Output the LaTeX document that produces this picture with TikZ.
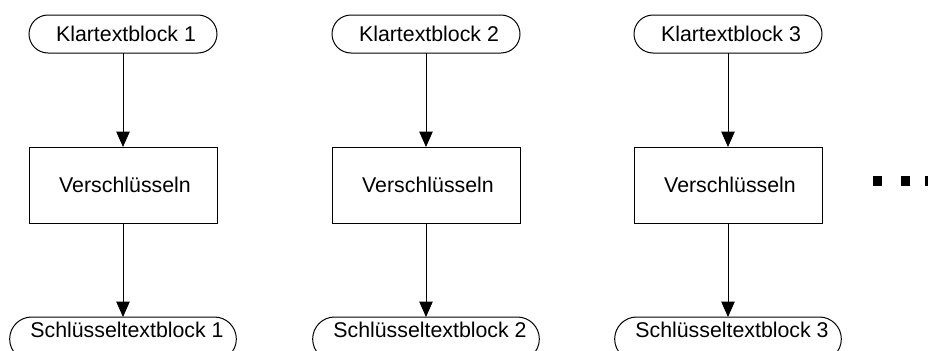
\documentclass[tikz,border=0pt]{standalone}
\usepackage{fontspec}
\setmainfont{Liberation Sans}
\usetikzlibrary{shapes.misc,arrows.meta}
\begin{document}
\begin{tikzpicture}[x=0.75pt,y=-0.75pt,
  every node/.style={inner sep=0pt, outer sep=0pt},
  line/.style={draw=black, line width=0.75pt},
  pill/.style={line, rounded rectangle, minimum height=28.5pt},
  topbox/.style={pill, minimum width=141pt},
  botbox/.style={pill, minimum width=170pt, minimum height=33pt},
  procbox/.style={line, rectangle, minimum width=141pt, minimum height=57pt},
  lbl/.style={font=\fontsize{16pt}{18pt}\selectfont},
  flow/.style={line, -{Triangle[width=10pt,length=11.5pt]}},
  dot/.style={fill=black, rectangle, minimum size=6.8pt}
]
\useasboundingbox (0,0) rectangle (928,350);
\clip (0,0) rectangle (928,350);

\foreach \i/\cx in {1/123, 2/426, 3/728} {
  % plaintext block
  \node[topbox] (k\i) at (\cx,34) {};
  \node[lbl] (kt\i) at (\cx+3,34) {Klartextblock \i};
  % encryption step
  \node[procbox] (v\i) at (\cx,185) {};
  \node[lbl] (vt\i) at (\cx+2,185) {Verschlüsseln};
  % ciphertext block
  \node[botbox, anchor=north] (s\i) at (\cx,317) {};
  \node[lbl] (st\i) at (\cx+4,330) {Schlüsseltextblock \i};
  % connectors
  \draw[flow] (k\i.south) -- (v\i.north);
  \draw[flow] (v\i.south) -- (s\i.north);
}

% continuation dots
\node[dot] (d1) at (877.5,181) {};
\node[dot] (d2) at (905.5,181) {};
\node[dot] (d3) at (929.5,181) {};
\end{tikzpicture}
\end{document}
